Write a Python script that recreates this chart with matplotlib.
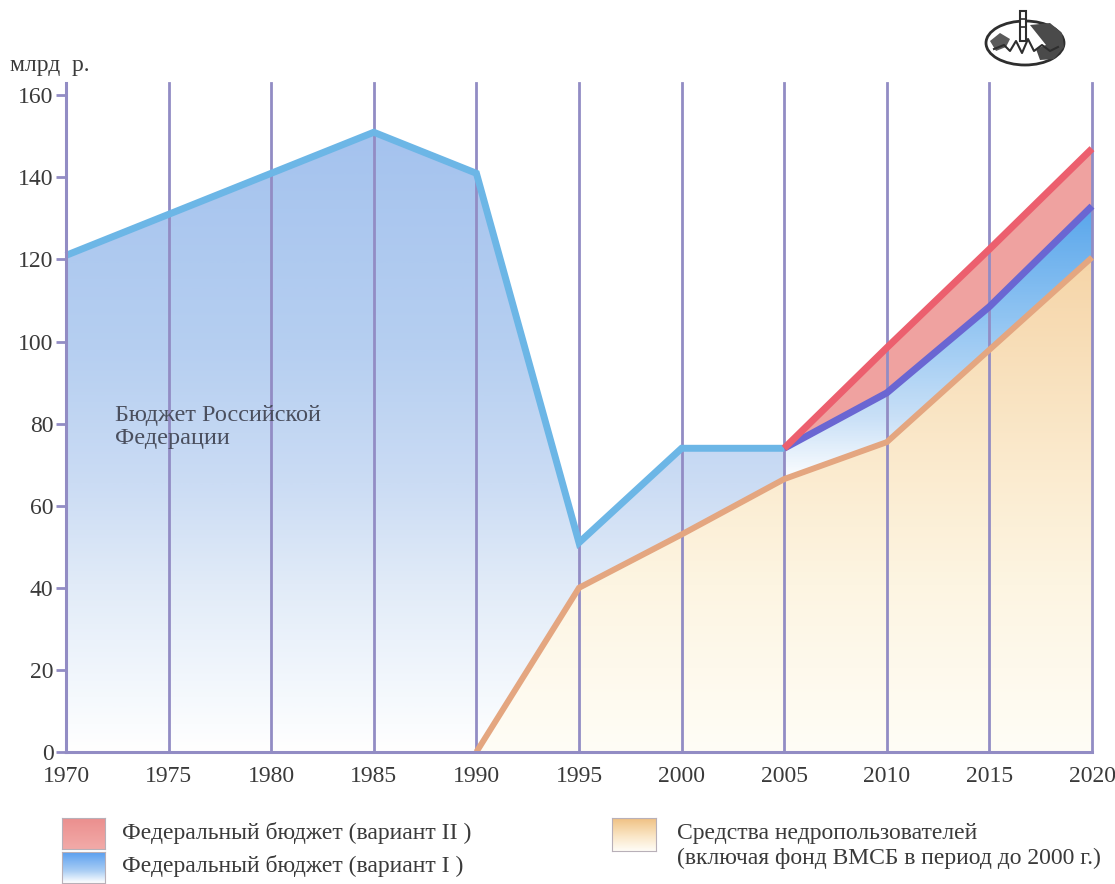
import numpy as np
import matplotlib
matplotlib.use("Agg")
import matplotlib.pyplot as plt
from matplotlib.colors import LinearSegmentedColormap
from matplotlib.patches import Ellipse, Rectangle, Polygon

# ---- data (billion roubles) ----
budget_years = [1970, 1975, 1980, 1985, 1990, 1995, 2000, 2005]
budget_vals = [121, 131, 141, 151, 141, 51, 74, 74]

users_years = [1990, 1995, 2000, 2005, 2010, 2015, 2020]
users_vals = [0, 40, 53, 66.5, 75.5, 98, 120.5]

forecast_years = [2005, 2010, 2015, 2020]
variant1_vals = [74, 87.5, 108.5, 133]
variant2_vals = [74, 98.5, 122.5, 147]

x_ticks = [1970, 1975, 1980, 1985, 1990, 1995, 2000, 2005, 2010, 2015, 2020]
y_ticks = [0, 20, 40, 60, 80, 100, 120, 140, 160]

y_unit = "млрд  р."
area_label = "Бюджет Российской\nФедерации"
legend_labels = [
    "Федеральный бюджет (вариант II )",
    "Федеральный бюджет (вариант I )",
    "Средства недропользователей",
    "(включая фонд ВМСБ в период до 2000 г.)",
]

plt.rcParams["font.family"] = ["Liberation Serif", "DejaVu Serif"]
TEXT = "#3a3a3a"
GRID = "#928cc4"

W, H = 1115, 884
fig = plt.figure(figsize=(W / 100, H / 100), dpi=100)
fig.patch.set_facecolor("white")


def fx(px):
    return px / W


def fy(py):
    return 1 - py / H


ax = fig.add_axes([fx(66), fy(752), fx(1092) - fx(66), fy(83) - fy(752)])
ax.set_xlim(1970, 2020)
ax.set_ylim(0, 163)


def gradient_fill(ax, xs, lower, upper, stops, z):
    coll = ax.fill_between(xs, lower, upper, facecolor="none", edgecolor="none")
    path = coll.get_paths()[0]
    cmap = LinearSegmentedColormap.from_list("g", stops)
    grad = np.linspace(0, 1, 512).reshape(-1, 1)
    im = ax.imshow(grad, cmap=cmap, aspect="auto", origin="lower",
                   extent=[min(xs), max(xs), 0, 163], zorder=z,
                   interpolation="bilinear")
    im.set_clip_path(path, transform=ax.transData)
    return im


# federal budget area (fades towards the bottom)
gradient_fill(ax, budget_years, [0] * len(budget_years), budget_vals,
              [(0.0, "#ffffff"), (0.08, "#f5f9fd"), (0.25, "#e1ebf8"),
               (0.40, "#cbdcf4"), (0.60, "#b6cff1"), (0.92, "#a5c3ee"),
               (1.0, "#a2c1ee")], 1)

# subsoil users area
gradient_fill(ax, users_years, [0] * len(users_years), users_vals,
              [(0.0, "#fffdf6"), (0.25, "#fdf5e2"), (0.42, "#fbebcf"),
               (0.72, "#f6d6aa"), (1.0, "#f0c48e")], 2)

# forecast: variant I band
gradient_fill(ax, forecast_years, users_vals[3:], variant1_vals,
              [(0.0, "#ffffff"), (0.42, "#f6fafe"), (0.50, "#c9e0f7"),
               (0.65, "#90c4f2"), (0.80, "#5ea9ec"), (1.0, "#55a4ec")], 3)

# forecast: variant II band
ax.fill_between(forecast_years, variant1_vals, variant2_vals,
                facecolor="#efa2a0", edgecolor="none", zorder=3)

# vertical grid lines
for yr in x_ticks:
    ax.axvline(yr, color=GRID, lw=2.0, zorder=4, clip_on=False)

# series lines
ax.plot(budget_years, budget_vals, color="#6cb6e6", lw=5, zorder=5,
        solid_joinstyle="miter", solid_capstyle="butt", clip_on=False)
ax.plot(users_years, users_vals, color="#e4a680", lw=4.3, zorder=5,
        solid_joinstyle="miter", solid_capstyle="butt", clip_on=False)
ax.plot(forecast_years, variant1_vals, color="#6a66d2", lw=5, zorder=6,
        solid_joinstyle="miter", solid_capstyle="butt", clip_on=False)
ax.plot(forecast_years, variant2_vals, color="#ec5f6e", lw=5, zorder=6,
        solid_joinstyle="miter", solid_capstyle="butt", clip_on=False)

# axes styling
for s in ["top", "right"]:
    ax.spines[s].set_visible(False)
for s in ["left", "bottom"]:
    ax.spines[s].set_color(GRID)
    ax.spines[s].set_linewidth(2.2)
    ax.spines[s].set_zorder(7)

ax.set_xticks(x_ticks)
ax.set_xticklabels([str(v) for v in x_ticks])
ax.set_yticks(y_ticks)
ax.set_yticklabels([str(v) for v in y_ticks])
ax.tick_params(axis="x", length=0, pad=10, labelsize=17, labelcolor=TEXT)
ax.tick_params(axis="y", length=7, width=2, color=GRID, pad=2,
               labelsize=17, labelcolor=TEXT)
ax.set_facecolor("none")

fig.text(fx(10), fy(66), y_unit, fontsize=17, color=TEXT, va="center", ha="left")
ax.text(1972.4, 84.5, area_label, fontsize=17.5, color="#4a4f5e",
        va="top", ha="left", linespacing=1.1, zorder=8)


# ---- legend ----
def legend_patch(left, top, right, bottom, stops):
    lax = fig.add_axes([fx(left), fy(bottom), fx(right) - fx(left), fy(top) - fy(bottom)])
    cmap = LinearSegmentedColormap.from_list("lg", stops)
    lax.imshow(np.linspace(0, 1, 128).reshape(-1, 1), cmap=cmap, aspect="auto",
               origin="upper", extent=[0, 1, 0, 1])
    lax.set_xticks([])
    lax.set_yticks([])
    for s in lax.spines.values():
        s.set_color("#b8b0b8")
        s.set_linewidth(0.8)


legend_patch(62, 818, 105, 849, [(0, "#eb8f8e"), (1, "#f2aaa8")])
legend_patch(62, 852, 105, 883, [(0, "#5a9ff0"), (0.6, "#a9cdf4"), (1, "#ffffff")])
legend_patch(612, 818, 656, 851, [(0, "#f0c183"), (0.55, "#fae6c6"), (1, "#fffdf7")])

fig.text(fx(122), fy(833), legend_labels[0], fontsize=17, color=TEXT, va="center", ha="left")
fig.text(fx(122), fy(866), legend_labels[1], fontsize=17, color=TEXT, va="center", ha="left")
fig.text(fx(677), fy(833), legend_labels[2], fontsize=17, color=TEXT, va="center", ha="left")
fig.text(fx(677), fy(858), legend_labels[3], fontsize=17, color=TEXT, va="center", ha="left")

# ---- emblem in the top-right corner ----
eax = fig.add_axes([fx(980), fy(70), fx(1070) - fx(980), fy(5) - fy(70)])
eax.set_xlim(0, 90)
eax.set_ylim(65, 0)
eax.axis("off")
eax.add_patch(Ellipse((45, 38), 78, 44, facecolor="white", edgecolor="#2e2e2e", lw=2))
eax.add_patch(Polygon([[50, 20], [70, 18], [82, 28], [84, 42], [74, 54], [60, 55],
                       [56, 44], [66, 40], [58, 30]], closed=True,
                      facecolor="#4a4a4a", edgecolor="none"))
eax.add_patch(Polygon([[10, 36], [20, 28], [30, 34], [26, 42], [16, 46]], closed=True,
                      facecolor="#5a5a5a", edgecolor="none"))
eax.plot([14, 24, 30, 36, 42, 48, 54, 62, 70, 78], [44, 40, 46, 36, 48, 34, 46, 40, 46, 42],
         color="#2e2e2e", lw=1.5)
eax.add_patch(Rectangle((40, 6), 6, 30, facecolor="white", edgecolor="#2e2e2e", lw=1.5))
eax.plot([40, 46], [14, 14], color="#2e2e2e", lw=1.2)
eax.plot([40, 46], [22, 22], color="#2e2e2e", lw=1.2)

fig.savefig("out.png", dpi=100, facecolor="white")
